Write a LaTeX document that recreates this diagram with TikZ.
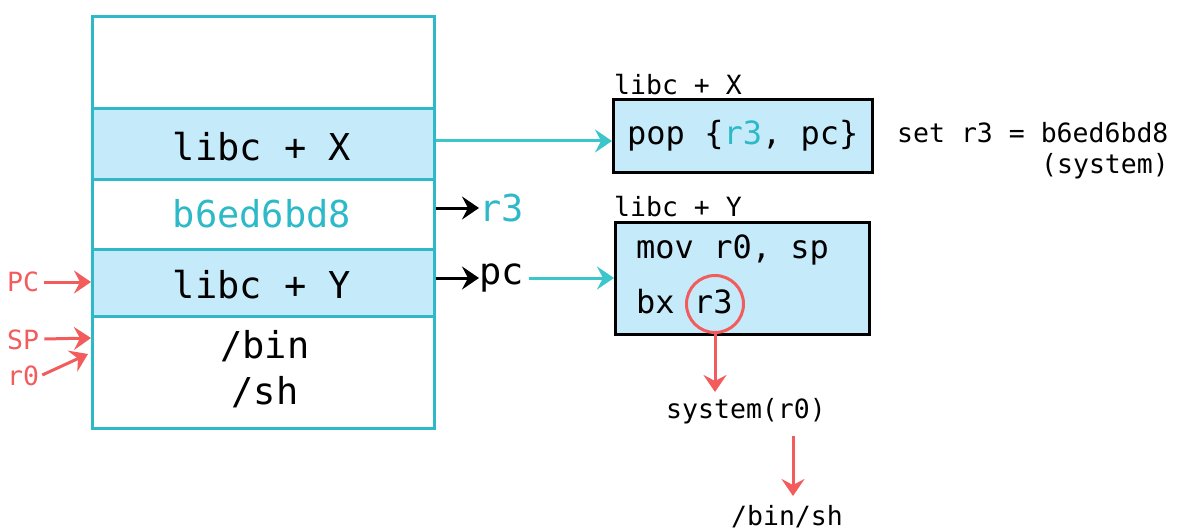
\documentclass[tikz,border=0pt]{standalone}
\usepackage{fontspec}
\setmonofont{DejaVu Sans Mono}
\usetikzlibrary{arrows.meta}
\definecolor{stackteal}{HTML}{2DB9C8}
\definecolor{arrowteal}{HTML}{3AC6CA}
\definecolor{cellblue}{HTML}{C5EBFB}
\definecolor{hotred}{HTML}{F25C5C}
\newcommand\fsBig{\ttfamily\fontsize{37}{44}\selectfont}
\newcommand\fsMid{\ttfamily\fontsize{32}{38}\selectfont}
\newcommand\fsSmall{\ttfamily\fontsize{26.5}{32}\selectfont}
\tikzset{
  cell/.style={draw=stackteal, line width=3pt, minimum width=342pt, inner sep=0pt, anchor=north},
  bluecell/.style={cell, fill=cellblue},
  codebox/.style={draw=black, line width=3pt, fill=cellblue, inner sep=0pt, anchor=north west},
  tip/.style={-{Stealth[length=17pt,width=23pt,inset=6pt]}},
  tealarrow/.style={draw=arrowteal, line width=3pt, tip},
  blackarrow/.style={draw=black, line width=3pt, tip},
  redarrow/.style={draw=hotred, line width=3pt, tip},
  txt/.style={inner sep=0pt, text=black},
}
\begin{document}
\begin{tikzpicture}[x=1pt,y=-1pt]
\useasboundingbox (0,0) rectangle (1178,532);

% stack cells
\node[cell, minimum height=92pt] (top) at (263,15) {};
\node[bluecell, minimum height=71pt] (cellX) at (263,107) {};
\node[cell, minimum height=70pt] (cellV) at (263,178) {};
\node[bluecell, minimum height=67pt] (cellY) at (263,248) {};
\node[cell, minimum height=112pt] (cellS) at (263,315) {};

\node[txt, font=\fsBig] (tX) at (262,147) {libc + X};
\node[txt, font=\fsBig, text=stackteal] (tV) at (262,214) {b6ed6bd8};
\node[txt, font=\fsBig] (tY) at (262,285) {libc + Y};
\node[txt, font=\fsBig, align=center] (tS) at (265,369) {/bin\\[2pt]/sh};

% left-hand register pointers
\node[txt, font=\fsSmall, text=hotred, anchor=west] (pcL) at (7,282) {PC};
\node[txt, font=\fsSmall, text=hotred, anchor=west] (spL) at (7,340) {SP};
\node[txt, font=\fsSmall, text=hotred, anchor=west] (r0L) at (7,376) {r0};
\coordinate (pcTip) at (91,282);
\coordinate (spTip) at (91,338);
\coordinate (r0Tip) at (88,354);
\draw[redarrow] (pcL.east) ++(5,0) -- (pcTip);
\draw[redarrow] (spL.east) ++(5,-1) -- (spTip);
\draw[redarrow] (r0L.east) ++(3,-1) -- (r0Tip);

% gadget 1
\node[txt, font=\fsSmall, anchor=west] (lX) at (614,85) {libc + X};
\node[codebox, minimum width=259pt, minimum height=73pt] (box1) at (612,98) {};
\node[txt, font=\fsMid, anchor=west] (pop) at (627,136) {pop \{\textcolor{stackteal}{r3}, pc\}};
\node[txt, font=\fsSmall, anchor=west] (set) at (897,133) {set r3 = b6ed6bd8};
\node[txt, font=\fsSmall, anchor=east] (sys1) at (1169,166) {(system)};
\draw[tealarrow] (cellX.east |- 0,141) -- (box1.west |- 0,141);

% popped registers
\node[txt, font=\fsBig, text=stackteal, anchor=west] (r3L) at (479,208) {r3};
\node[txt, font=\fsBig, anchor=west] (pcR) at (479,278) {pc};
\draw[blackarrow] (cellV.east |- r3L) -- (r3L.west);
\draw[blackarrow] (cellY.east |- pcR) -- (pcR.west);

% gadget 2
\node[txt, font=\fsSmall, anchor=west] (lY) at (614,207) {libc + Y};
\node[codebox, minimum width=254pt, minimum height=112pt] (box2) at (614,221) {};
\draw[tealarrow] ([xshift=5pt]pcR.east) -- (box2.west |- pcR);
\node[txt, font=\fsMid, anchor=west] (mov) at (636,250) {mov r0, sp};
\node[txt, font=\fsMid, anchor=west] (bx) at (636,302) {bx r3};
\node[draw=hotred, line width=3pt, circle, minimum size=57pt, inner sep=0pt] (ring) at (715,304) {};

% call chain
\node[txt, font=\fsSmall] (call) at (746,411) {system(r0)};
\node[txt, font=\fsSmall] (shell) at (787,517) {/bin/sh};
\draw[redarrow] (ring.south) -- (715,392);
\coordinate (c2top) at (793,436);
\draw[redarrow] (c2top) -- (793,496);
\end{tikzpicture}
\end{document}
